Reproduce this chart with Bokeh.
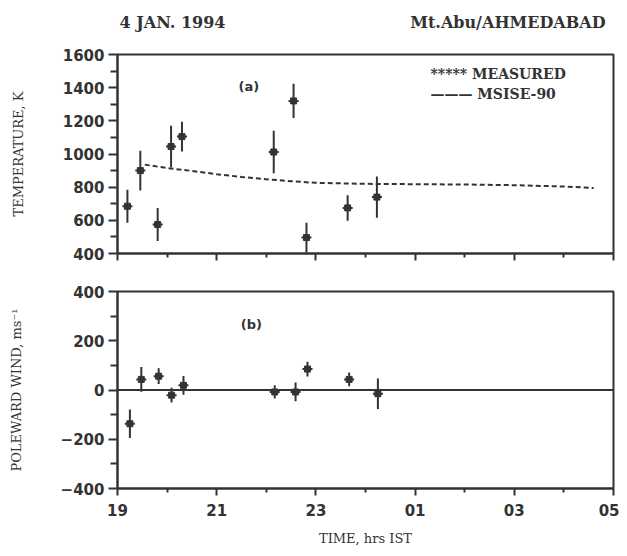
from bokeh.plotting import figure
from bokeh.layouts import column
from bokeh.models import Range1d, Label, Span, FixedTicker
from bokeh.embed import file_html
from bokeh.resources import INLINE

# ---------------- data ----------------
temp_hours = [19.20, 19.46, 19.81, 20.08, 20.30, 22.15, 22.55, 22.81, 23.64, 24.23]
temp_vals = [685, 900, 575, 1045, 1105, 1012, 1320, 496, 675, 740]
temp_err = [100, 120, 100, 125, 90, 128, 103, 90, 77, 125]

model_hours = [19.55, 20.0, 20.5, 21.0, 21.5, 22.0, 22.5, 23.0, 24.0, 25.0, 26.0, 27.0, 28.0, 28.6]
model_temp = [936, 915, 898, 878, 862, 848, 836, 826, 820, 818, 816, 812, 804, 795]

wind_hours = [19.25, 19.48, 19.83, 20.09, 20.33, 22.17, 22.59, 22.83, 23.67, 24.25]
wind_vals = [-137, 43, 56, -21, 19, -8, -8, 85, 43, -15]
wind_err = [58, 50, 32, 30, 38, 27, 38, 30, 28, 62]

x_major = [19, 21, 23, 25, 27, 29]
x_minor = [20, 22, 24, 26, 28]
x_labels = {19: "19", 21: "21", 23: "23", 25: "01", 27: "03", 29: "05"}
t_major = [400, 600, 800, 1000, 1200, 1400, 1600]
t_minor = [500, 700, 900, 1100, 1300, 1500]
w_major = [-400, -200, 0, 200, 400]
w_minor = [-300, -100, 100, 300]
w_labels = {-400: "\u2212400", -200: "\u2212200", 0: "0", 200: "200", 400: "400"}

title_left = "4 JAN. 1994"
title_right = "Mt.Abu/AHMEDABAD"

INK = "#333333"
SERIF = "DejaVu Serif"
SANS = "DejaVu Sans"
W = 619


def style(p, ymaj, ymin, show_x_labels):
    p.outline_line_color = INK
    p.outline_line_width = 2
    p.grid.visible = False
    p.background_fill_color = "white"
    p.border_fill_color = "white"
    for ax in (p.xaxis[0], p.yaxis[0]):
        ax.axis_line_color = INK
        ax.axis_line_width = 2
        ax.major_tick_line_color = INK
        ax.minor_tick_line_color = INK
        ax.major_tick_line_width = 2
        ax.minor_tick_line_width = 2
        ax.major_tick_in = 0
        ax.minor_tick_in = 0
        ax.major_label_text_font = SANS
        ax.major_label_text_font_style = "bold"
        ax.major_label_text_font_size = "15px"
        ax.major_label_text_color = INK
        ax.axis_label_text_font = SERIF
        ax.axis_label_text_font_style = "normal"
        ax.axis_label_text_font_size = "13px"
        ax.axis_label_text_color = INK
    p.xaxis[0].ticker = FixedTicker(ticks=x_major, minor_ticks=x_minor)
    p.xaxis[0].major_tick_out = 7
    p.xaxis[0].minor_tick_out = 4
    p.yaxis[0].ticker = FixedTicker(ticks=ymaj, minor_ticks=ymin)
    p.yaxis[0].major_tick_out = 9
    p.yaxis[0].minor_tick_out = 7
    p.yaxis[0].major_label_standoff = 4
    if show_x_labels:
        p.xaxis[0].major_label_overrides = x_labels
        p.xaxis[0].major_label_standoff = 8
    else:
        p.xaxis[0].major_label_overrides = {k: "" for k in x_major}
        p.xaxis[0].major_label_standoff = 0


# ---------------- header (titles) ----------------
ph = figure(width=W, height=40, x_range=Range1d(0, 1), y_range=Range1d(0, 1),
            x_axis_type=None, y_axis_type=None, output_backend="svg", toolbar_location=None,
            min_border_left=117, min_border_right=6, min_border_top=0, min_border_bottom=0)
ph.outline_line_color = None
ph.grid.visible = False
ph.add_layout(Label(x=55, y=18, x_units="screen", y_units="screen", text=title_left,
                    text_font=SERIF, text_font_style="bold", text_font_size="16px",
                    text_color=INK, text_align="center", text_baseline="middle"))
ph.add_layout(Label(x=488, y=18, x_units="screen", y_units="screen", text=title_right,
                    text_font=SERIF, text_font_style="bold", text_font_size="16px",
                    text_color=INK, text_align="right", text_baseline="middle"))

# ---------------- top panel ----------------
p1 = figure(width=W, height=233, x_range=Range1d(19, 29), y_range=Range1d(400, 1600),
            output_backend="svg", toolbar_location=None,
            min_border_left=117, min_border_right=6, min_border_top=14, min_border_bottom=20)
style(p1, t_major, t_minor, False)
p1.yaxis[0].axis_label = "TEMPERATURE, K"
p1.yaxis[0].axis_label_standoff = 34

p1.line(model_hours, model_temp, line_color=INK, line_width=2, line_dash="5 3")
p1.segment(x0=temp_hours, y0=[v - e for v, e in zip(temp_vals, temp_err)],
           x1=temp_hours, y1=[v + e for v, e in zip(temp_vals, temp_err)],
           line_color=INK, line_width=2)
p1.scatter(temp_hours, temp_vals, marker="square", size=6, fill_color=INK, line_color=INK)
p1.scatter(temp_hours, temp_vals, marker="dash", size=10, line_color=INK, line_width=2)

p1.add_layout(Label(x=21.65, y=1410, text="(a)", text_font=SANS, text_font_style="bold",
                    text_font_size="13px", text_color=INK, text_align="center",
                    text_baseline="middle"))
p1.add_layout(Label(x=313, y=180, x_units="screen", y_units="screen", text="***** MEASURED",
                    text_font=SERIF, text_font_style="bold", text_font_size="14px",
                    text_color=INK, text_align="left", text_baseline="middle"))
p1.add_layout(Label(x=313, y=160, x_units="screen", y_units="screen", text="\u2014\u2014\u2014 MSISE-90",
                    text_font=SERIF, text_font_style="bold", text_font_size="14px",
                    text_color=INK, text_align="left", text_baseline="middle"))

# ---------------- bottom panel ----------------
p2 = figure(width=W, height=275, x_range=p1.x_range, y_range=Range1d(-400, 400),
            output_backend="svg", toolbar_location=None,
            min_border_left=117, min_border_right=6, min_border_top=18, min_border_bottom=58)
style(p2, w_major, w_minor, True)
p2.yaxis[0].major_label_overrides = w_labels
p2.yaxis[0].axis_label = "POLEWARD WIND, ms\u207b\u00b9"
p2.yaxis[0].axis_label_standoff = 34
p2.xaxis[0].axis_label = "TIME, hrs IST"
p2.xaxis[0].axis_label_standoff = 12

p2.add_layout(Span(location=0, dimension="width", line_color=INK, line_width=2))
p2.segment(x0=wind_hours, y0=[v - e for v, e in zip(wind_vals, wind_err)],
           x1=wind_hours, y1=[v + e for v, e in zip(wind_vals, wind_err)],
           line_color=INK, line_width=2)
p2.scatter(wind_hours, wind_vals, marker="square", size=6, fill_color=INK, line_color=INK)
p2.scatter(wind_hours, wind_vals, marker="dash", size=10, line_color=INK, line_width=2)
p2.add_layout(Label(x=21.7, y=265, text="(b)", text_font=SANS, text_font_style="bold",
                    text_font_size="13px", text_color=INK, text_align="center",
                    text_baseline="middle"))

layout = column(ph, p1, p2, spacing=0)
open("out.html", "w").write(file_html(layout, INLINE))
